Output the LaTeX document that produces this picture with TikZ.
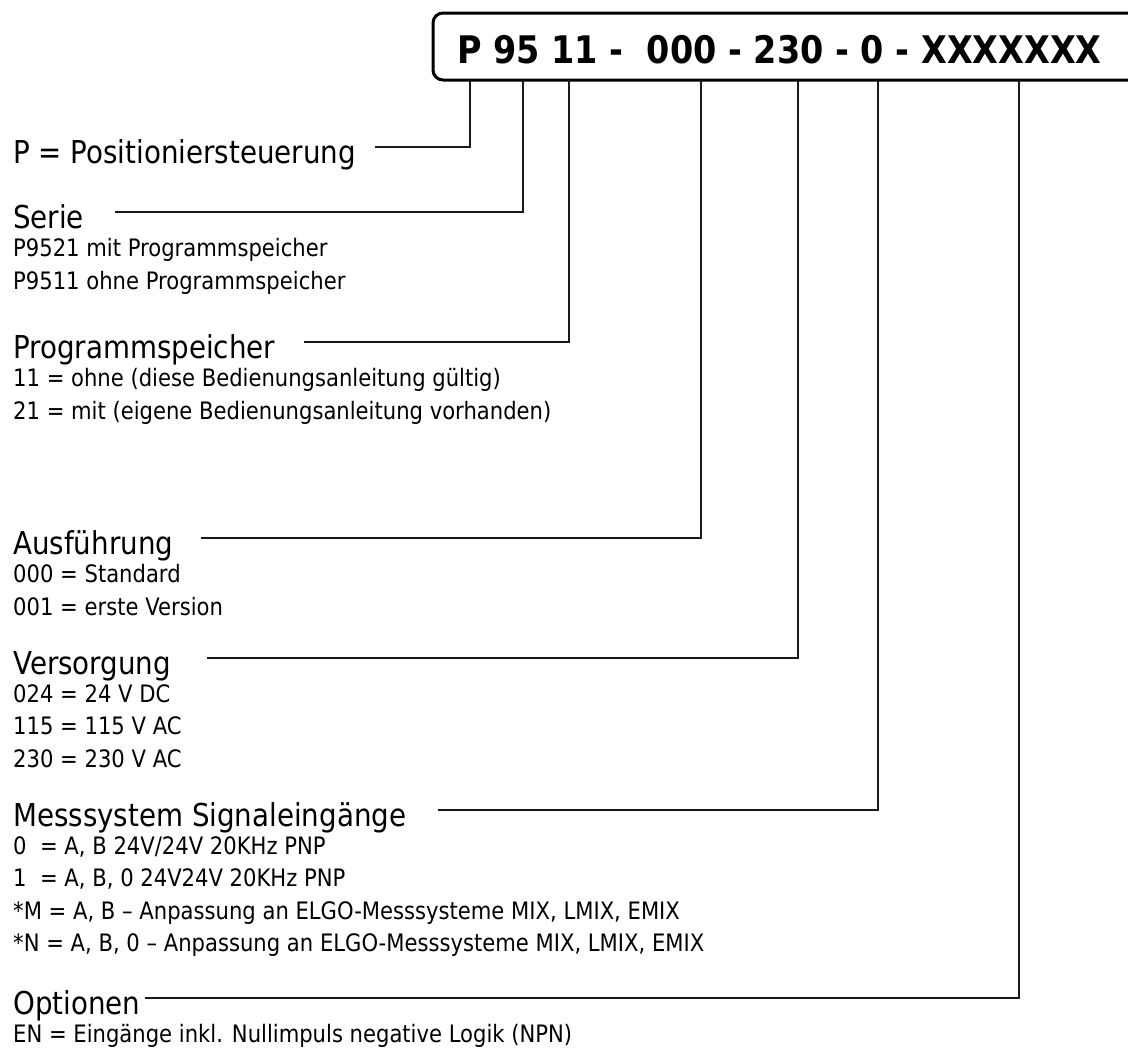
\documentclass[tikz,border=0pt]{standalone}
\usepackage{fontspec}
\setmainfont{DejaVu Sans}[FakeStretch=0.88]
\usetikzlibrary{positioning}

\begin{document}
\begin{tikzpicture}[
  x=1pt, y=-1pt,
  frame/.style = {draw, line width=3pt, rounded corners=10pt},
  codetext/.style = {anchor=base west, inner sep=0pt,
                     font=\fontsize{38}{38}\selectfont\bfseries},
  head/.style = {anchor=west, inner sep=0pt, text height=22pt, text depth=6pt,
                 font=\fontsize{31.5}{31.5}\selectfont},
  items/.style = {anchor=north west, inner sep=0pt, align=left,
                  font=\fontsize{24}{32.5}\selectfont},
  lead/.style = {line width=1.4pt, black!90}
]
\useasboundingbox (0,0) rectangle (1128,1052);

% Top: type code in its frame
\draw[frame] (433,13) rectangle (1150,80);
\node[codetext] (code) at (457,63) {P 95 11 -\ \ 000 - 230 - 0 - XXXXXXX};

% taps on the lower edge of the frame
\coordinate (tPos) at (470,80);
\coordinate (tSer) at (523,80);
\coordinate (tPrg) at (569,80);
\coordinate (tAus) at (701,80);
\coordinate (tVer) at (798,80);
\coordinate (tMes) at (878,80);
\coordinate (tOpt) at (1019,80);

% Left: explanations
\node[head] (hPos) at (13,155) {P = Positioniersteuerung};

\node[head] (hSer) at (13,220) {Serie};
\node[items, below=4pt of hSer.south west, anchor=north west] (lSer)
  {P9521 mit Programmspeicher\\P9511 ohne Programmspeicher};

\node[head] (hPrg) at (13,350) {Programmspeicher};
\node[items, below=4pt of hPrg.south west, anchor=north west] (lPrg)
  {11 = ohne (diese Bedienungsanleitung gültig)\\
   21 = mit (eigene Bedienungsanleitung vorhanden)};

\node[head] (hAus) at (13,546) {Ausführung};
\node[items, below=4pt of hAus.south west, anchor=north west] (lAus)
  {000 = Standard\\001 = erste Version};

\node[head] (hVer) at (13,666) {Versorgung};
\node[items, below=4pt of hVer.south west, anchor=north west] (lVer)
  {024 = 24 V DC\\115 = 115 V AC\\230 = 230 V AC};

\node[head] (hMes) at (13,818) {Messsystem Signaleingänge};
\node[items, below=4pt of hMes.south west, anchor=north west] (lMes)
  {0\ \ = A, B 24V/24V 20KHz PNP\\
   1\ \ = A, B, 0 24V24V 20KHz PNP\\
   *M = A, B – Anpassung an ELGO-Messsysteme MIX, LMIX, EMIX\\
   *N = A, B, 0 – Anpassung an ELGO-Messsysteme MIX, LMIX, EMIX};

\node[head] (hOpt) at (13,1006) {Optionen};
\node[items, below=4pt of hOpt.south west, anchor=north west] (lOpt)
  {EN = Eingänge inkl. Nullimpuls negative Logik (NPN)};

% leader lines up to the code
\draw[lead] ([xshift=19pt, yshift=8pt]hPos.east) -| (tPos);
\draw[lead] ([xshift=31pt, yshift=8pt]hSer.east) -| (tSer);
\draw[lead] ([xshift=29pt, yshift=8pt]hPrg.east) -| (tPrg);
\draw[lead] ([xshift=28pt, yshift=8pt]hAus.east) -| (tAus);
\draw[lead] ([xshift=36pt, yshift=8pt]hVer.east) -| (tVer);
\draw[lead] ([xshift=31pt, yshift=8pt]hMes.east) -| (tMes);
\draw[lead] ([xshift=4pt, yshift=8pt]hOpt.east) -| (tOpt);

\end{tikzpicture}
\end{document}
